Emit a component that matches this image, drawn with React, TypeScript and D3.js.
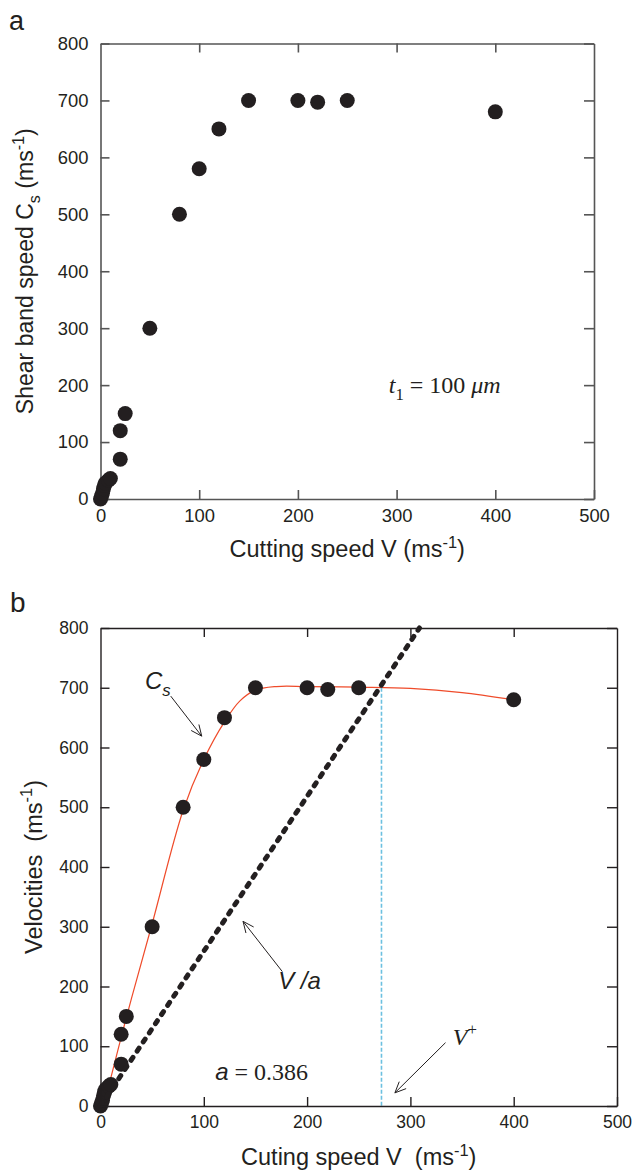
import { useEffect, useRef } from "react";
import * as d3 from "d3";

// measured points (same data in both panels)
const speedV = [0, 1, 2, 3, 4, 5, 8, 10, 20, 20, 25, 50, 80, 100, 120, 150, 200, 220, 250, 400];
const bandCs = [0, 5, 10, 18, 24, 28, 33, 36, 70, 120, 150, 300, 500, 580, 650, 700, 700, 697, 700, 680];

// red fit curve in panel b
const fitV = [0, 5, 10, 20, 30, 50, 80, 100, 120, 135, 150, 170, 200, 250, 300, 350, 400];
const fitCs = [0, 15, 47, 115, 180, 305, 495, 580, 643, 678, 696, 702, 702, 701, 699, 692, 680];

// V/a line
const lineV = [0, 308.8];
const lineVel = [0, 800];
const aValue = "0.386";
const vPlus = 272;
const vPlusTop = 700;

const xTicks = [0, 100, 200, 300, 400, 500];
const yTicks = [0, 100, 200, 300, 400, 500, 600, 700, 800];

const SANS = "'Liberation Sans', Arial, Helvetica, sans-serif";
const SERIF = "'Liberation Serif', 'Times New Roman', serif";

type Seg = { t: string; italic?: boolean; serif?: boolean; shift?: "sub" | "sup" };

function richText(g: any, x: number, y: number, segs: Seg[], size: number, opts: any = {}) {
  const txt = g
    .append("text")
    .attr("x", x)
    .attr("y", y)
    .attr("font-family", SANS)
    .attr("font-size", size)
    .attr("fill", "#231f20")
    .style("white-space", "pre")
    .attr("text-anchor", opts.anchor || "start");
  if (opts.transform) txt.attr("transform", opts.transform);
  let cur = 0;
  segs.forEach((s) => {
    const target = s.shift === "sub" ? size * 0.3 : s.shift === "sup" ? -size * 0.4 : 0;
    const ts = txt
      .append("tspan")
      .attr("dy", target - cur)
      .text(s.t);
    cur = target;
    if (s.shift) ts.attr("font-size", size * 0.7);
    if (s.italic) ts.attr("font-style", "italic");
    if (s.serif) ts.attr("font-family", SERIF);
  });
  return txt;
}

function arrow(g: any, x1: number, y1: number, x2: number, y2: number) {
  const ang = Math.atan2(y2 - y1, x2 - x1);
  const len = 12;
  const spread = 0.42;
  const p = d3.path();
  p.moveTo(x1, y1);
  p.lineTo(x2, y2);
  p.moveTo(x2 - len * Math.cos(ang - spread), y2 - len * Math.sin(ang - spread));
  p.lineTo(x2, y2);
  p.lineTo(x2 - len * Math.cos(ang + spread), y2 - len * Math.sin(ang + spread));
  g.append("path").attr("d", p.toString()).attr("fill", "none").attr("stroke", "#231f20").attr("stroke-width", 1);
}

function frame(g: any, x: any, y: any, color: string, width: number, topTicks: number[], fs: number) {
  const w = x.range()[1];
  const h = y.range()[0];
  const style = (sel: any) => {
    sel.select(".domain").attr("stroke", color).attr("stroke-width", width);
    sel.selectAll(".tick line").attr("stroke", color).attr("stroke-width", width);
    sel.selectAll("text").attr("font-family", SANS).attr("font-size", fs).attr("fill", "#231f20");
  };
  g.append("g")
    .attr("transform", `translate(0,${h})`)
    .call(d3.axisBottom(x).tickValues(xTicks).tickSizeInner(-9).tickSizeOuter(0).tickPadding(10))
    .call(style);
  g.append("g")
    .call(d3.axisLeft(y).tickValues(yTicks).tickSizeInner(-9).tickSizeOuter(0).tickPadding(12))
    .call(style);
  g.append("g")
    .call(d3.axisTop(x).tickValues(topTicks).tickSizeInner(-9).tickSizeOuter(0).tickFormat(() => ""))
    .call(style);
  g.append("g")
    .attr("transform", `translate(${w},0)`)
    .call(d3.axisRight(y).tickValues(yTicks).tickSizeInner(-10).tickSizeOuter(0).tickFormat(() => ""))
    .call(style);
}

export default function App() {
  const ref = useRef<SVGSVGElement>(null);

  useEffect(() => {
    document.body.style.margin = "0";
    const svg = d3.select(ref.current);
    svg.selectAll("*").remove();

    // ---------- panel a ----------
    const ma = { left: 100.5, top: 43.5 };
    const wa = 594 - ma.left;
    const ha = 499 - ma.top;
    const xa = d3.scaleLinear().domain([0, 500]).range([0, wa]);
    const ya = d3.scaleLinear().domain([0, 800]).range([ha, 0]);
    const ga = svg.append("g").attr("transform", `translate(${ma.left},${ma.top})`);

    frame(ga, xa, ya, "#555", 1.6, [100, 200, 300, 400], 18.4);

    ga.selectAll("circle")
      .data(speedV)
      .enter()
      .append("circle")
      .attr("cx", (d) => xa(d))
      .attr("cy", (_d, i) => ya(bandCs[i]))
      .attr("r", 7.5)
      .attr("fill", "#231f20");

    richText(
      ga,
      xa(292),
      ya(186),
      [
        { t: "t", italic: true, serif: true },
        { t: "1", serif: true, shift: "sub" },
        { t: " = 100 ", serif: true },
        { t: "μm", italic: true, serif: true },
      ],
      24
    );

    richText(ga, wa / 2, ha + 58, [{ t: "Cutting speed V (ms" }, { t: "-1", shift: "sup" }, { t: ")" }], 23.5, {
      anchor: "middle",
    });
    richText(
      ga,
      0,
      0,
      [{ t: "Shear band speed C" }, { t: "s", shift: "sub" }, { t: " (ms" }, { t: "-1", shift: "sup" }, { t: ")" }],
      23,
      { anchor: "middle", transform: `translate(-67.5,${ha / 2}) rotate(-90)` }
    );

    svg.append("text").attr("x", 9).attr("y", 30).attr("font-family", SANS).attr("font-size", 27).attr("fill", "#231f20").text("a");

    // ---------- panel b ----------
    const mb = { left: 100.5, top: 628 };
    const wb = 617 - mb.left;
    const hb = 1106 - mb.top;
    const xb = d3.scaleLinear().domain([0, 500]).range([0, wb]);
    const yb = d3.scaleLinear().domain([0, 800]).range([hb, 0]);
    const gb = svg.append("g").attr("transform", `translate(${mb.left},${mb.top})`);

    const curve = d3
      .line<number>()
      .x((d) => xb(d))
      .y((_d, i) => yb(fitCs[i]))
      .curve(d3.curveCatmullRom.alpha(0.5));
    gb.append("path").attr("d", curve(fitV)).attr("fill", "none").attr("stroke", "#ef4b2a").attr("stroke-width", 1.2);

    gb.append("line")
      .attr("x1", xb(vPlus))
      .attr("x2", xb(vPlus))
      .attr("y1", yb(vPlusTop))
      .attr("y2", yb(0))
      .attr("stroke", "#6cc0e0")
      .attr("stroke-width", 1.6)
      .attr("stroke-dasharray", "4 2");

    gb.selectAll("circle")
      .data(speedV)
      .enter()
      .append("circle")
      .attr("cx", (d) => xb(d))
      .attr("cy", (_d, i) => yb(bandCs[i]))
      .attr("r", 7.5)
      .attr("fill", "#231f20");

    const straight = d3
      .line<number>()
      .x((d) => xb(d))
      .y((_d, i) => yb(lineVel[i]));
    gb.append("path")
      .attr("d", straight(lineV))
      .attr("fill", "none")
      .attr("stroke", "#231f20")
      .attr("stroke-width", 5)
      .attr("stroke-linecap", "round")
      .attr("stroke-dasharray", "3.5 7.5");

    frame(gb, xb, yb, "#231f20", 1.4, [100, 200, 300, 400], 17.5);

    // annotations
    richText(gb, xb(43), yb(698), [{ t: "C", italic: true }, { t: "s", italic: true, shift: "sub" }], 24);
    arrow(gb, xb(68), yb(686), xb(98), yb(619));

    richText(gb, xb(172), yb(195), [{ t: "V /a", italic: true }], 24);
    arrow(gb, xb(176), yb(225), xb(138), yb(309));

    richText(gb, xb(111), yb(44), [{ t: "a", italic: true }, { t: " = " + aValue, serif: true }], 24);

    richText(gb, xb(341), yb(102), [{ t: "V", italic: true, serif: true }, { t: "+", serif: true, shift: "sup" }], 24);
    arrow(gb, xb(334), yb(106), xb(285), yb(22));

    richText(gb, wb / 2, hb + 59, [{ t: "Cuting speed V  (ms" }, { t: "-1", shift: "sup" }, { t: ")" }], 23.5, {
      anchor: "middle",
    });
    richText(gb, 0, 0, [{ t: "Velocities  (ms" }, { t: "-1", shift: "sup" }, { t: ")" }], 23.5, {
      anchor: "middle",
      transform: `translate(-59,${hb / 2}) rotate(-90)`,
    });

    svg.append("text").attr("x", 10).attr("y", 612).attr("font-family", SANS).attr("font-size", 28).attr("fill", "#231f20").text("b");
  }, []);

  return <svg ref={ref} width={633} height={1170} style={{ display: "block", background: "#fff" }} />;
}
